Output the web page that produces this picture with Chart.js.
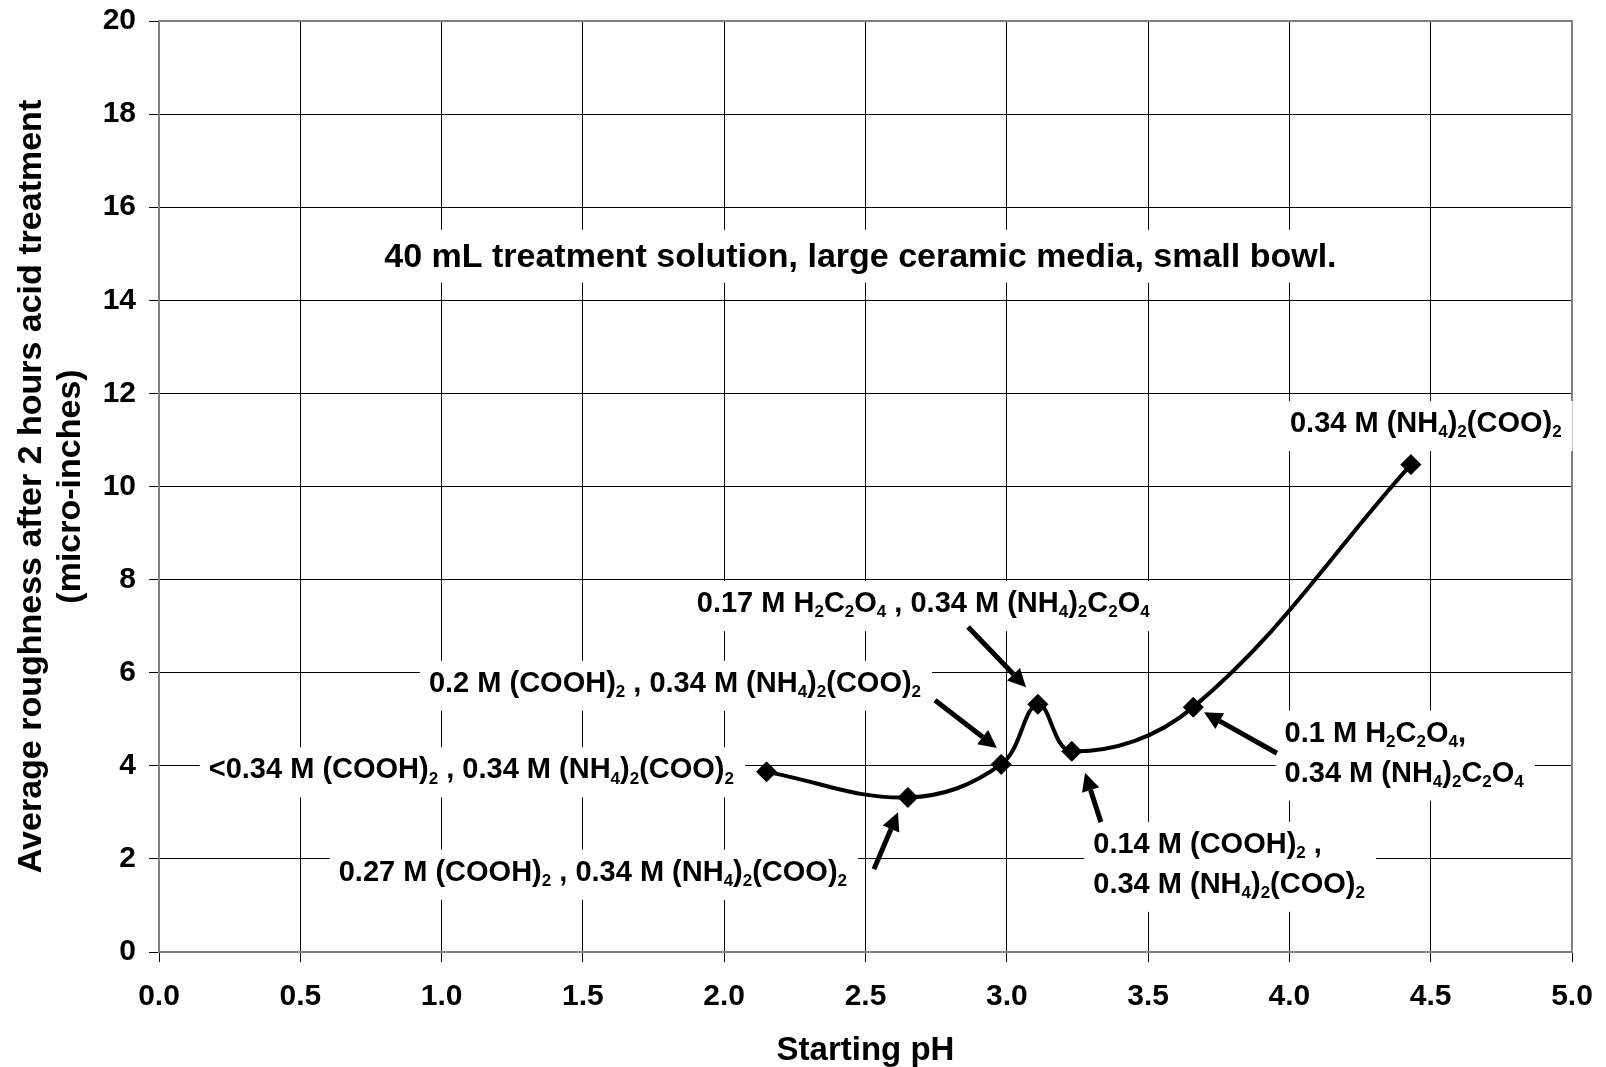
<!DOCTYPE html>
<html>
<head>
<meta charset="utf-8">
<script src="https://cdn.jsdelivr.net/npm/chart.js@4.4.1/dist/chart.umd.min.js"></script>
<style>
  body { margin: 0; background: #fff; }
  canvas { display: block; }
</style>
</head>
<body>
<canvas id="phChart" width="1606" height="1067"></canvas>
<script>
// data
const startingPh = [2.15, 2.65, 2.98, 3.11, 3.23, 3.66, 4.43];
const roughness = [3.87, 3.32, 4.03, 5.32, 4.31, 5.26, 10.47];

const chartTitle = "40 mL treatment solution, large ceramic media, small bowl.";
const xTitle = "Starting pH";
const yTitle = ["Average roughness after 2 hours acid treatment", "(micro-inches)"];

// "_d" = subscript digit
const pointLabels = [
  ["<0.34 M (COOH)_2 , 0.34 M (NH_4)_2(COO)_2"],
  ["0.27 M (COOH)_2 , 0.34 M (NH_4)_2(COO)_2"],
  ["0.2 M (COOH)_2 , 0.34 M (NH_4)_2(COO)_2"],
  ["0.17 M H_2C_2O_4 , 0.34 M (NH_4)_2C_2O_4"],
  ["0.14 M (COOH)_2 ,", "0.34 M (NH_4)_2(COO)_2"],
  ["0.1 M H_2C_2O_4,", "0.34 M (NH_4)_2C_2O_4"],
  ["0.34 M (NH_4)_2(COO)_2"],
];

// where the labels and arrows sit, in axis units (left edge / first baseline)
const labelX = [0.176, 0.636, 0.955, 1.903, 3.306, 3.983, 4.002];
const labelY = [3.73, 1.53, 5.59, 7.30, 2.13, 4.52, 11.17];
const arrowFrom = [null, [2.530, 1.78], [2.746, 5.41], [2.863, 6.98], [3.333, 2.79], [3.956, 4.27], null];
const arrowTo = [null, [2.615, 3.00], [2.965, 4.38], [3.068, 5.69], [3.277, 3.85], [3.698, 5.15], null];
const titleAt = [2.482, 14.72];

const FONT = "'Liberation Sans', Arial, sans-serif";
Chart.defaults.font.family = FONT;
Chart.defaults.color = "#000";

const fontStr = (size) => "bold " + size + "px " + FONT;

const splitRich = (str) =>
  str.split(/_(\d)/).map((t, i) => ({ t, sub: i % 2 === 1 })).filter((s) => s.t);

const richWidth = (ctx, str, size) => {
  let w = 0;
  splitRich(str).forEach((s) => {
    ctx.font = fontStr(s.sub ? Math.round(size * 0.6) : size);
    w += ctx.measureText(s.t).width;
  });
  return w;
};

const drawRich = (ctx, str, x, y, size) => {
  splitRich(str).forEach((s) => {
    const sz = s.sub ? Math.round(size * 0.6) : size;
    ctx.font = fontStr(sz);
    ctx.fillText(s.t, x, s.sub ? y + size * 0.18 : y);
    x += ctx.measureText(s.t).width;
  });
};

const drawArrow = (ctx, x1, y1, x2, y2) => {
  const ang = Math.atan2(y2 - y1, x2 - x1);
  const hl = 18, hw = 9;
  const bx = x2 - hl * Math.cos(ang), by = y2 - hl * Math.sin(ang);
  ctx.beginPath();
  ctx.moveTo(x1, y1);
  ctx.lineTo(bx, by);
  ctx.lineWidth = 5;
  ctx.stroke();
  ctx.beginPath();
  ctx.moveTo(x2, y2);
  ctx.lineTo(bx + hw * Math.sin(ang), by - hw * Math.cos(ang));
  ctx.lineTo(bx - hw * Math.sin(ang), by + hw * Math.cos(ang));
  ctx.closePath();
  ctx.fill();
};

const annotations = {
  id: "annotations",
  beforeDatasetsDraw(chart) {
    const { ctx, chartArea: a, scales: { x, y } } = chart;
    ctx.save();
    // grey plot frame
    ctx.strokeStyle = "#808080";
    ctx.lineWidth = 2;
    ctx.strokeRect(a.left, a.top, a.right - a.left, a.bottom - a.top);

    ctx.textBaseline = "alphabetic";
    ctx.textAlign = "left";

    // title inside the plot
    const ts = 34;
    ctx.font = fontStr(ts);
    const tw = ctx.measureText(chartTitle).width;
    const tx = x.getPixelForValue(titleAt[0]) - tw / 2;
    const ty = y.getPixelForValue(titleAt[1]);
    ctx.fillStyle = "#fff";
    ctx.fillRect(tx - 10, ty - 37, tw + 20, 53);
    ctx.fillStyle = "#000";
    ctx.fillText(chartTitle, tx, ty);

    // point labels
    const ls = 29, gap = 40;
    pointLabels.forEach((lines, i) => {
      const lx = x.getPixelForValue(labelX[i]);
      const ly = y.getPixelForValue(labelY[i]);
      const w = Math.max(...lines.map((l) => richWidth(ctx, l, ls)));
      ctx.fillStyle = "#fff";
      ctx.fillRect(lx - 9, ly - 31, w + 20, 50 + gap * (lines.length - 1));
      ctx.fillStyle = "#000";
      lines.forEach((l, j) => drawRich(ctx, l, lx, ly + j * gap, ls));
    });
    ctx.restore();
  },
  afterDatasetsDraw(chart) {
    const { ctx, scales: { x, y } } = chart;
    ctx.save();
    ctx.strokeStyle = "#000";
    ctx.fillStyle = "#000";
    arrowFrom.forEach((from, i) => {
      if (!from) return;
      const to = arrowTo[i];
      drawArrow(ctx,
        x.getPixelForValue(from[0]), y.getPixelForValue(from[1]),
        x.getPixelForValue(to[0]), y.getPixelForValue(to[1]));
    });
    ctx.restore();
  },
};

new Chart(document.getElementById("phChart"), {
  type: "line",
  data: {
    datasets: [{
      data: startingPh.map((ph, i) => ({ x: ph, y: roughness[i] })),
      borderColor: "#000",
      borderWidth: 4,
      tension: 0.38,
      pointStyle: "rectRot",
      pointRadius: 10,
      pointBackgroundColor: "#000",
      pointBorderColor: "#000",
      pointBorderWidth: 1,
    }],
  },
  options: {
    responsive: false,
    animation: false,
    layout: { padding: { top: 21, right: 34, left: 0, bottom: 0 } },
    plugins: { legend: { display: false }, tooltip: { enabled: false } },
    scales: {
      x: {
        type: "linear",
        min: 0,
        max: 5,
        ticks: {
          stepSize: 0.5,
          autoSkip: false,
          maxRotation: 0,
          padding: 17,
          font: { size: 30, weight: "bold" },
          callback: (v) => v.toFixed(1),
        },
        grid: { color: "#000", lineWidth: 1, tickLength: 10 },
        border: { color: "#808080", width: 2 },
        title: {
          display: true,
          text: xTitle,
          font: { size: 33, weight: "bold", lineHeight: 1 },
          padding: { top: 0, bottom: 0 },
        },
        afterFit: (s) => {
          s.height = 115;
          s.paddingLeft = 0;
          s.paddingRight = 0;
        },
      },
      y: {
        min: 0,
        max: 20,
        ticks: {
          stepSize: 2,
          padding: 13,
          font: { size: 30, weight: "bold" },
        },
        grid: { color: "#000", lineWidth: 1, tickLength: 10 },
        border: { color: "#808080", width: 2 },
        title: {
          display: true,
          text: yTitle,
          font: { size: 34, weight: "bold", lineHeight: 1.15 },
          padding: { top: 12, bottom: 0 },
        },
        afterFit: (s) => {
          s.width = 159;
          s.paddingTop = 0;
          s.paddingBottom = 0;
        },
      },
    },
  },
  plugins: [annotations],
});
</script>
</body>
</html>
